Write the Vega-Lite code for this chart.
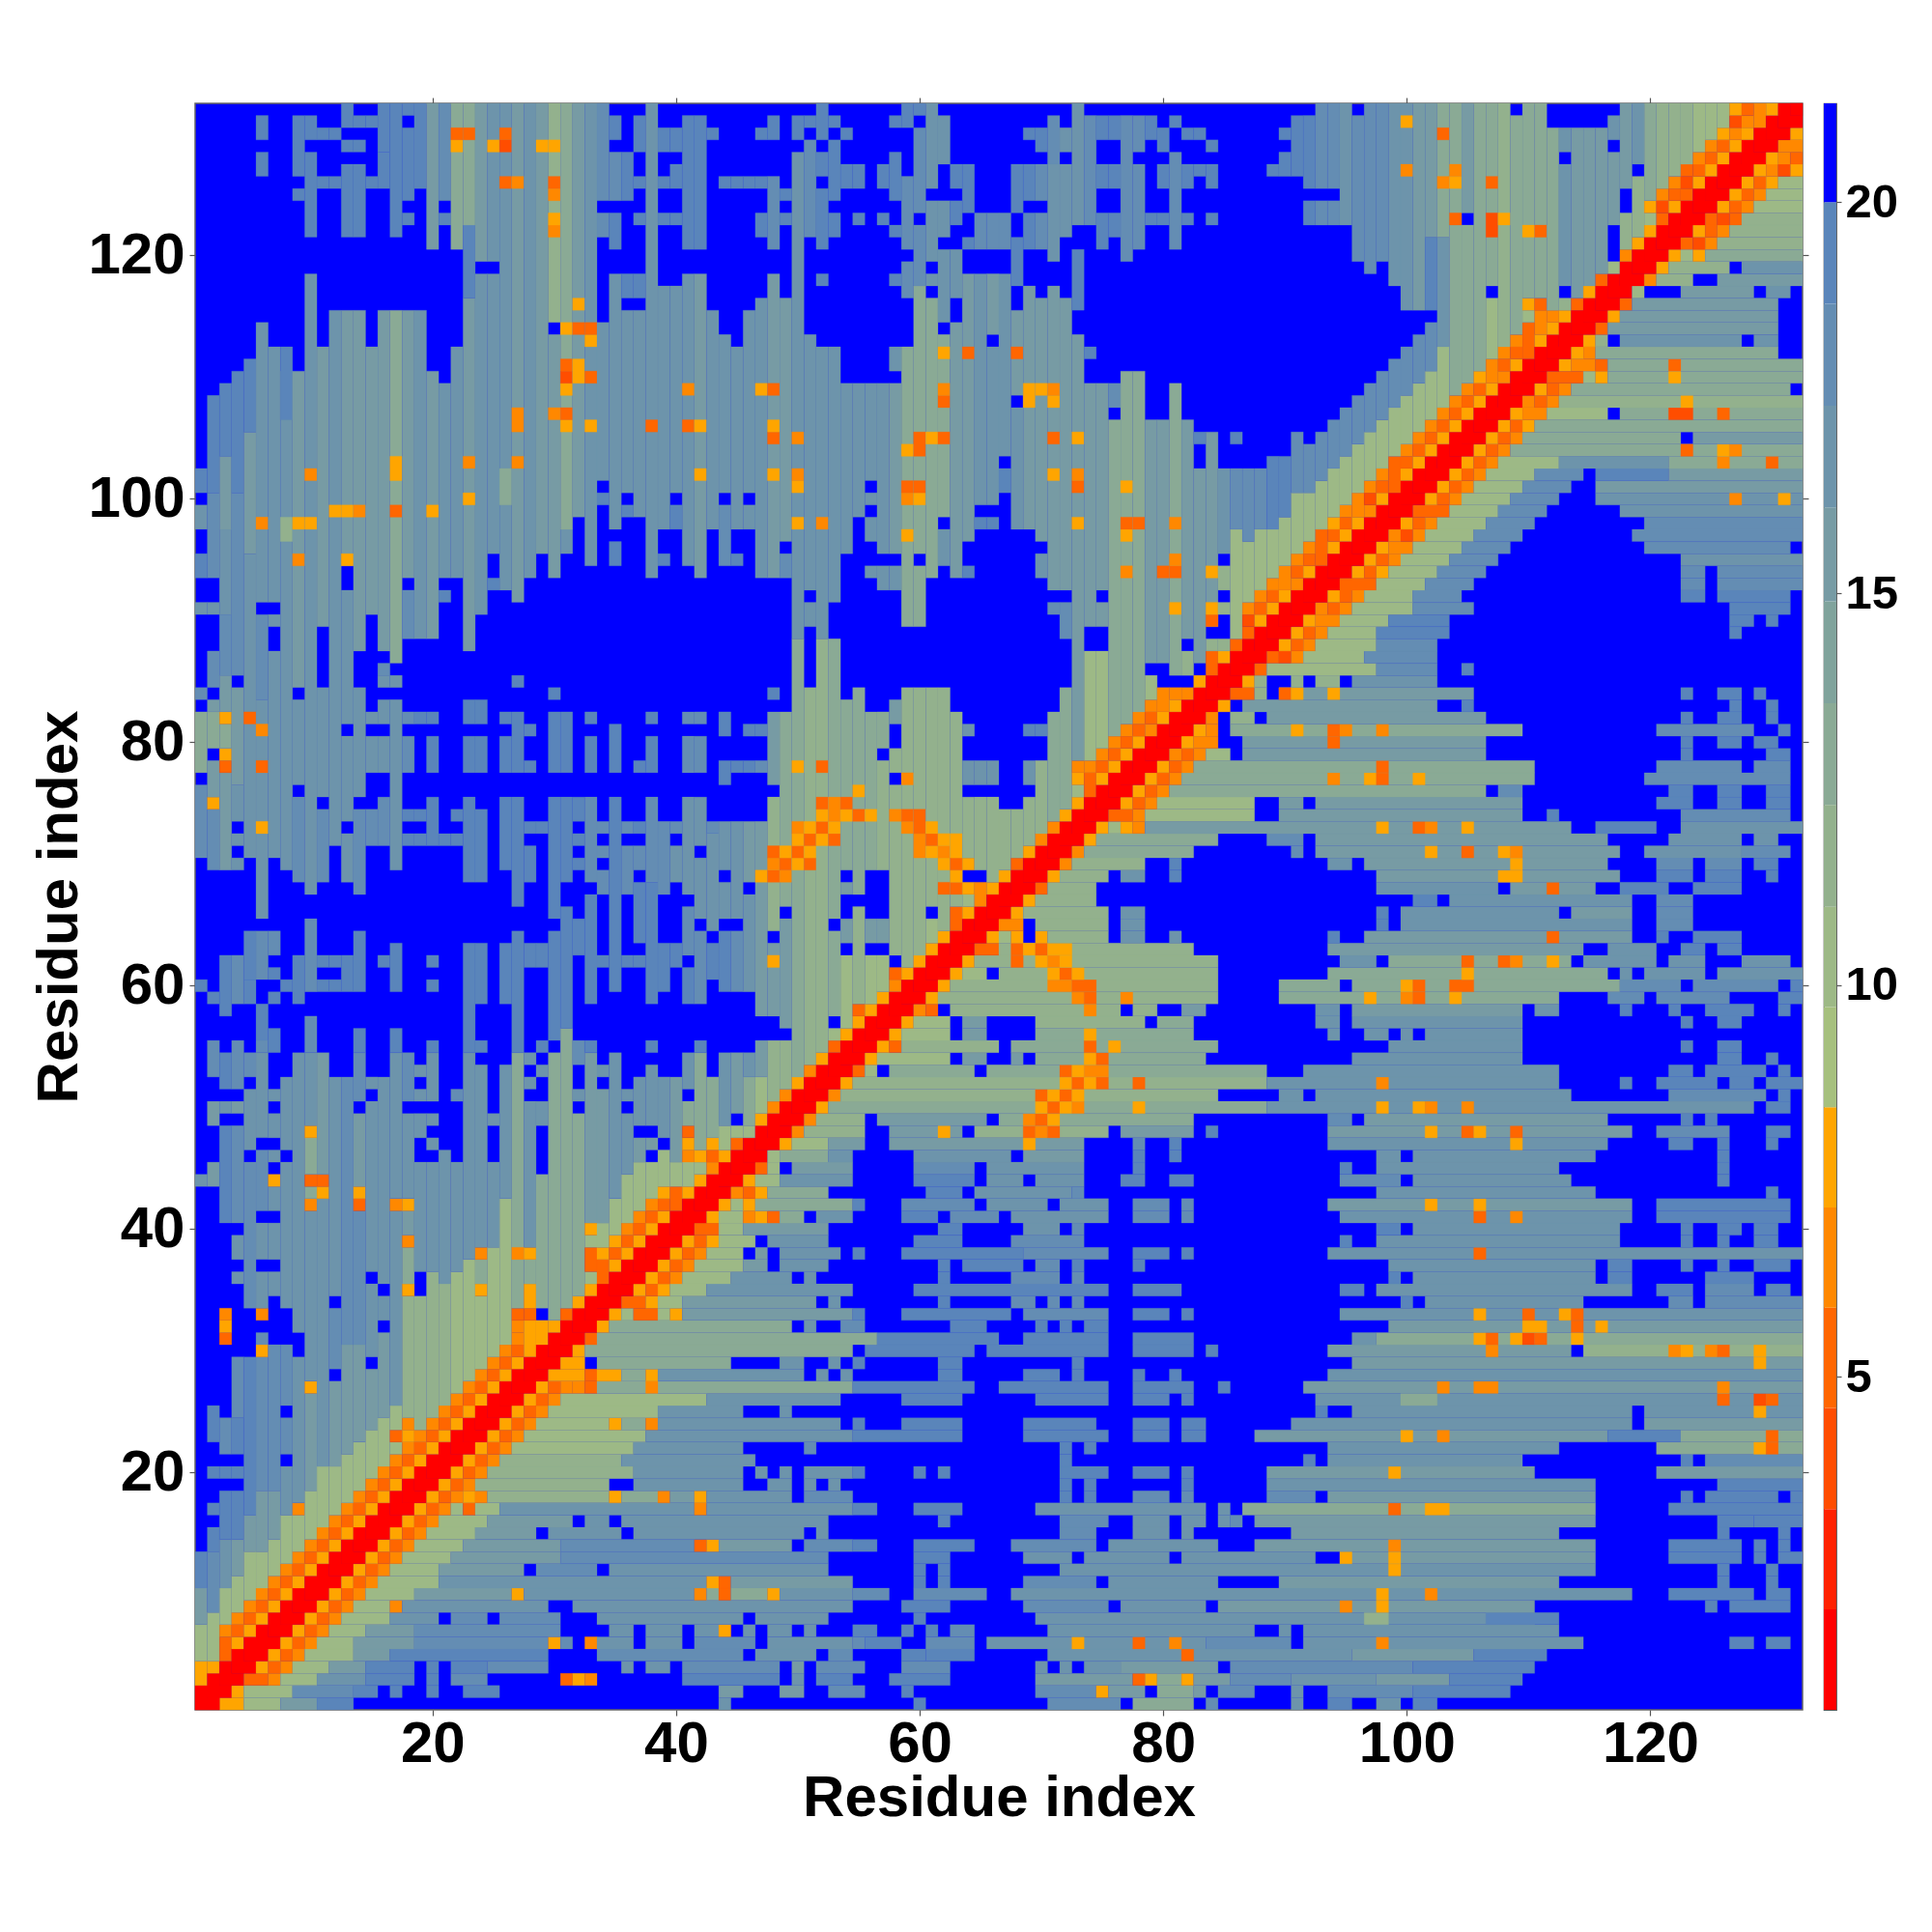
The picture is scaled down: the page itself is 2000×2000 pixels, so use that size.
{"$schema":"https://vega.github.io/schema/vega-lite/v6.json","background":"white","padding":{"left":31,"top":99,"right":0,"bottom":0},"spacing":13,"config":{"view":{"stroke":null},"axis":{"labelFont":"Liberation Sans","titleFont":"Liberation Sans","labelFontWeight":"bold","titleFontWeight":"bold","labelColor":"black","titleColor":"black","grid":false,"domain":false,"tickColor":"#555555","tickSize":6,"tickWidth":1.2}},
"hconcat":[{"width":1664,"height":1663,"view":{"fill":"#0000ff","stroke":"#666666","strokeWidth":1.5},
"data":{"values":[
{"y":0,"Y":1,"r":[[0,2,1],[2,4,7.5],[4,7,10],[7,10,15],[10,13,19.5],[43,44,17],[59,60,19.5],[70,76,18],[77,82,13],[83,84,18],[90,91,17],[93,95,19],[97,99,17],[100,102,19]]},
{"y":1,"Y":2,"r":[[0,3,1],[3,4,7.5],[4,8,10],[8,13,18],[13,15,19.5],[16,17,19.5],[19,20,19.5],[22,25,19],[43,45,15],[48,50,15],[52,55,18],[58,59,19.5],[69,74,18],[74,75,7.5],[75,78,15],[79,82,13],[82,83,15],[84,87,18],[90,91,17],[93,100,18],[100,108,19]]},
{"y":2,"Y":3,"r":[[2,4,1],[4,6,5],[6,7,6.5],[7,10,10],[10,14,17],[14,18,19.5],[19,20,19.5],[21,24,18],[30,31,5],[31,32,7.5],[32,33,6.5],[40,48,19],[49,50,17],[51,54,19],[57,62,19],[69,77,15],[77,78,5],[78,79,7.5],[79,81,13],[81,82,7.5],[82,85,15],[85,90,18],[90,97,17],[97,103,15],[103,109,19]]},
{"y":3,"Y":4,"r":[[3,5,1],[5,6,7.5],[6,7,5],[7,8,6.5],[8,11,10],[11,14,15],[14,18,19],[19,20,19],[21,24,19],[24,29,18],[35,36,17],[37,39,17],[40,48,18],[49,50,15],[51,55,18],[58,62,18],[69,70,17],[71,72,17],[73,76,17],[76,84,15],[85,100,18],[100,110,19]]},
{"y":4,"Y":5,"r":[[4,6,1],[6,7,7.5],[7,8,5],[8,9,6.5],[9,13,10],[13,16,15],[16,29,19],[33,45,18],[46,51,17],[52,54,18],[58,60,19.5],[60,64,19],[70,95,17],[81,82,5],[95,105,15],[105,111,19]]},
{"y":5,"Y":6,"r":[[5,7,1],[7,8,7.5],[8,9,5],[9,10,6.5],[10,13,10],[13,18,15],[18,29,18],[29,30,7.5],[30,31,18],[32,33,6.5],[33,36,17],[37,40,17],[41,46,18],[47,54,17],[54,55,18],[55,58,19],[60,64,18],[65,83,17],[72,73,7.5],[77,78,5],[80,81,6.5],[83,90,18],[91,114,17],[97,98,6.5],[126,128,19.5],[129,131,19.5]]},
{"y":6,"Y":7,"r":[[6,8,1],[8,9,7.5],[9,10,5],[10,11,6.5],[11,14,10],[14,18,15],[18,30,18],[34,36,17],[37,40,17],[41,43,17],[43,44,7.5],[45,46,17],[47,49,17],[50,51,17],[54,56,19],[58,59,19],[60,61,19],[62,64,18],[70,87,17],[89,90,17],[91,112,17]]},
{"y":7,"Y":8,"r":[[7,9,1],[9,10,7.5],[10,11,5],[11,12,6.5],[12,16,10],[16,20,17],[21,24,18],[25,30,18],[33,45,17],[46,52,17],[59,60,19.5],[69,110,17],[96,98,12],[106,112,19]]},
{"y":8,"Y":9,"r":[[8,10,1],[10,11,7.5],[11,12,5],[12,13,6.5],[13,16,10],[16,17,6.5],[17,29,17],[31,54,17],[58,62,19],[68,75,18],[76,83,17],[84,110,15],[94,95,6.5],[97,98,7.5],[124,125,19.5],[126,131,19.5]]},
{"y":9,"Y":10,"r":[[9,11,1],[11,12,7.5],[12,13,5],[13,14,6.5],[14,18,10],[18,26,15],[26,27,7.5],[27,41,17],[41,42,6.5],[42,43,13],[43,44,5],[44,47,13],[47,48,7.5],[48,54,17],[54,57,18],[59,65,18],[67,118,17],[97,98,7.5],[101,102,6.5],[121,128,19],[129,131,19]]},
{"y":10,"Y":11,"r":[[10,12,1],[12,13,7.5],[13,14,5],[14,15,6.5],[15,20,10],[20,42,17],[42,43,7.5],[43,44,5],[44,54,15],[59,60,19.5],[61,62,19.5],[68,74,18],[75,84,17],[89,112,15],[125,126,19.5],[129,130,19.5]]},
{"y":11,"Y":12,"r":[[11,13,1],[13,14,7.5],[14,15,5],[15,16,6.5],[16,20,10],[20,27,15],[28,33,18],[34,52,17],[59,60,19.5],[61,62,19.5],[71,115,17],[98,99,7.5],[125,126,19.5],[129,130,19.5]]},
{"y":12,"Y":13,"r":[[12,14,1],[14,15,7.5],[15,16,5],[16,17,6.5],[17,21,10],[21,30,15],[30,52,18],[59,62,19],[68,72,17],[73,80,17],[81,92,17],[94,115,15],[94,95,7.5],[98,99,7.5],[121,127,19],[128,129,19],[130,132,19]]},
{"y":13,"Y":14,"r":[[13,15,1],[15,16,7.5],[16,17,5],[17,18,6.5],[18,22,10],[22,30,15],[30,41,18],[41,42,5],[42,43,7.5],[43,49,15],[50,54,18],[54,56,19],[59,64,19],[67,74,18],[75,84,17],[87,115,15],[98,99,6.5],[121,127,19],[128,129,19],[130,131,19]]},
{"y":14,"Y":15,"r":[[14,16,1],[16,17,7.5],[17,18,5],[18,19,6.5],[19,23,10],[23,28,15],[29,35,17],[36,50,17],[51,52,17],[71,74,18],[77,80,17],[81,82,17],[90,112,15],[125,126,19.5],[130,131,19.5]]},
{"y":15,"Y":16,"r":[[15,17,1],[17,18,7.5],[18,19,5],[19,20,6.5],[20,24,10],[24,31,15],[32,34,17],[35,52,17],[61,62,19.5],[71,75,18],[77,80,17],[81,83,17],[84,85,17],[85,86,18],[87,115,15],[125,128,19],[128,132,19]]},
{"y":16,"Y":17,"r":[[16,18,1],[18,19,7.5],[19,20,5],[20,21,6.5],[21,22,10],[22,23,5],[23,25,10],[25,41,17],[41,42,6.5],[42,54,17],[54,56,19],[59,63,19],[69,83,17],[84,85,17],[86,115,13],[98,99,5],[101,103,7.5],[121,132,19]]},
{"y":17,"Y":18,"r":[[17,19,1],[19,20,7.5],[20,21,5],[21,22,6.5],[22,23,7.5],[23,24,6.5],[24,34,12],[34,35,7.5],[35,38,13],[38,39,6.5],[39,41,15],[41,42,7.5],[42,49,17],[50,54,18],[71,72,19],[73,74,19],[77,80,18],[81,82,18],[88,92,18],[93,115,15],[122,123,19.5],[124,130,19],[131,132,19.5]]},
{"y":18,"Y":19,"r":[[18,20,1],[20,21,7.5],[21,22,5],[22,23,6.5],[23,34,12],[36,45,17],[47,49,17],[50,51,17],[52,53,17],[71,72,19],[73,74,19],[81,82,19],[88,115,17],[125,132,19]]},
{"y":19,"Y":20,"r":[[19,21,1],[21,22,7.5],[22,23,5],[23,24,6.5],[24,36,12],[36,45,17],[46,47,17],[48,49,17],[50,54,17],[54,55,19.5],[59,60,19.5],[61,62,19.5],[71,75,19],[77,80,19],[81,82,19],[88,110,15],[98,99,7.5],[120,132,15]]},
{"y":20,"Y":21,"r":[[20,22,1],[22,23,7.5],[23,24,5],[24,25,6.5],[25,35,12],[35,46,17],[71,72,19],[91,92,19],[93,109,17],[122,123,19.5],[124,132,18]]},
{"y":21,"Y":22,"r":[[21,23,1],[23,24,7.5],[24,25,5],[25,26,6.5],[26,36,10],[36,45,17],[50,51,18],[71,72,19],[73,74,19],[93,112,17],[120,132,13],[128,129,7.5],[129,130,5]]},
{"y":22,"Y":23,"r":[[22,24,1],[24,25,7.5],[25,26,5],[26,27,6.5],[27,37,10],[37,54,17],[54,63,19.5],[68,75,19],[77,80,19],[81,83,19],[87,116,15],[99,100,7.5],[102,103,6.5],[116,122,19],[122,132,13],[129,130,5]]},
{"y":23,"Y":24,"r":[[23,25,1],[25,26,7.5],[26,27,5],[27,28,6.5],[28,34,10],[34,35,7.5],[35,37,13],[37,38,6.5],[38,53,17],[54,55,19.5],[58,63,19.5],[68,74,19],[77,80,19],[81,83,19],[90,118,17],[119,132,15]]},
{"y":24,"Y":25,"r":[[24,26,1],[26,27,7.5],[27,28,5],[28,29,6.5],[29,38,10],[38,45,17],[48,49,17],[92,93,19],[95,118,17],[119,132,17],[128,129,7.5]]},
{"y":25,"Y":26,"r":[[25,27,1],[27,28,7.5],[28,29,5],[29,30,6.5],[30,42,10],[42,53,17],[58,63,19.5],[69,75,19],[77,80,19],[81,82,19],[92,132,17],[99,102,13],[125,126,5],[128,129,4],[129,130,5]]},
{"y":26,"Y":27,"r":[[26,28,1],[28,29,7.5],[29,30,5],[30,31,6.5],[31,32,6.5],[32,33,5],[33,54,13],[37,38,6.5],[54,64,19.5],[66,75,19],[77,82,19],[84,85,19],[91,132,15],[102,103,6.5],[105,107,6.5],[125,126,6.5]]},
{"y":27,"Y":28,"r":[[27,29,1],[29,32,7.5],[32,33,5],[33,35,7.5],[35,37,13],[37,38,7.5],[38,50,17],[51,52,17],[53,54,17],[61,63,19.5],[68,71,19],[72,73,19],[77,78,19],[80,81,19],[93,132,17]]},
{"y":28,"Y":29,"r":[[28,30,1],[30,32,7.5],[33,44,13],[48,50,17],[52,53,17],[54,55,19],[61,63,19],[72,73,19],[95,132,15],[128,129,7.5]]},
{"y":29,"Y":30,"r":[[29,31,1],[31,32,7.5],[32,54,13],[55,64,19.5],[65,75,19],[77,82,19],[83,84,19],[93,113,15],[106,107,6.5],[114,132,12],[121,122,6.5],[122,123,7.5],[124,125,6.5],[125,126,5],[128,129,7.5]]},
{"y":30,"Y":31,"r":[[30,32,1],[32,33,5],[33,56,13],[56,66,19.5],[68,75,19],[77,82,19],[95,97,17],[97,132,13],[105,106,7.5],[106,107,5],[108,109,7.5],[109,110,4],[110,111,5],[113,114,7.5]]},
{"y":31,"Y":32,"r":[[31,33,1],[33,34,7.5],[34,49,13],[50,51,17],[53,55,18],[62,65,19.5],[69,70,19],[71,72,19],[73,75,19],[98,132,15],[109,111,7.5],[113,114,5],[115,116,7.5]]},
{"y":32,"Y":33,"r":[[32,34,1],[34,35,7.5],[35,36,10],[36,38,5],[38,39,10],[39,40,7.5],[40,54,15],[54,55,19],[58,67,19],[68,75,18],[77,80,19],[81,82,19],[94,132,17],[105,106,7.5],[109,110,5],[112,113,7.5],[113,114,5]]},
{"y":33,"Y":34,"r":[[33,35,1],[35,37,5],[37,38,7.5],[38,40,10],[40,51,15],[52,53,17],[61,62,19.5],[67,69,18],[70,71,18],[72,73,18],[99,100,19],[101,114,17],[121,123,18],[124,132,18]]},
{"y":34,"Y":35,"r":[[34,36,1],[36,37,7.5],[37,38,5],[38,39,7.5],[39,42,10],[42,54,17],[59,75,19],[77,81,19],[94,96,19],[97,118,17],[120,123,19],[124,128,18],[129,131,19]]},
{"y":35,"Y":36,"r":[[35,37,1],[37,38,7.5],[38,39,5],[39,40,6.5],[40,44,10],[44,49,17],[50,51,17],[61,62,19.5],[67,71,18],[72,73,18],[98,99,19],[100,115,17],[116,118,19],[124,128,19]]},
{"y":36,"Y":37,"r":[[36,38,1],[38,39,7.5],[39,40,5],[40,41,6.5],[41,45,10],[45,47,15],[48,52,17],[61,62,19.5],[63,68,19],[69,71,18],[72,73,19],[77,78,19],[98,115,17],[116,118,19],[122,123,19],[125,126,19],[128,131,19]]},
{"y":37,"Y":38,"r":[[37,39,1],[39,40,7.5],[40,41,5],[41,42,6.5],[42,45,10],[46,47,15],[48,53,17],[54,55,19],[58,68,19],[68,75,18],[77,80,19],[81,82,19],[93,132,17],[105,106,5]]},
{"y":38,"Y":39,"r":[[38,40,1],[40,41,7.5],[41,42,5],[42,43,7.5],[43,46,10],[47,52,17],[59,63,19],[67,73,18],[94,95,19],[97,117,17],[122,123,19.5],[125,126,19.5],[128,130,19.5]]},
{"y":39,"Y":40,"r":[[39,41,1],[41,43,5],[43,45,10],[45,52,15],[61,63,19],[68,71,17],[72,73,18],[97,99,19],[100,117,17],[122,123,19.5],[125,127,19.5],[128,130,19.5]]},
{"y":40,"Y":41,"r":[[40,42,1],[42,43,7.5],[43,45,10],[45,46,6.5],[46,47,7.5],[47,48,5],[48,50,13],[51,54,17],[58,61,19],[62,66,18],[67,75,17],[77,80,18],[81,82,18],[94,118,17],[105,106,5],[108,109,6.5],[120,131,19]]},
{"y":41,"Y":42,"r":[[41,43,1],[43,44,7.5],[44,45,10],[45,46,7.5],[46,54,13],[54,55,19],[58,64,18],[65,70,17],[71,75,17],[77,80,18],[81,82,18],[93,118,15],[101,102,7.5],[105,106,7.5],[120,131,19]]},
{"y":42,"Y":43,"r":[[42,44,1],[44,45,6.5],[45,46,5],[46,47,7.5],[47,52,13],[60,63,19],[64,72,17],[72,73,18],[97,115,17],[129,130,19]]},
{"y":43,"Y":44,"r":[[43,45,1],[45,46,7.5],[46,48,10],[48,54,17],[59,64,19],[65,68,17],[69,73,17],[76,78,19],[80,82,19],[94,99,18],[100,113,17],[125,126,19.5]]},
{"y":44,"Y":45,"r":[[44,46,1],[46,47,5],[47,48,10],[49,54,15],[59,64,18],[65,73,17],[77,78,19],[94,95,19],[97,112,17],[125,126,19.5]]},
{"y":45,"Y":46,"r":[[45,47,1],[47,48,10],[48,52,13],[52,54,17],[59,67,17],[68,73,15],[77,78,19],[80,81,19],[97,99,17],[100,115,17],[125,126,19.5]]},
{"y":46,"Y":47,"r":[[46,48,1],[48,49,7.5],[49,52,10],[52,55,15],[57,73,15],[68,69,7.5],[77,78,18],[80,81,19],[93,116,17],[108,109,7.5],[121,123,19],[125,126,19.5],[129,130,19.5]]},
{"y":47,"Y":48,"r":[[47,49,1],[49,50,6.5],[50,55,12],[57,63,15],[61,62,7.5],[64,75,12],[68,69,5],[69,70,6.5],[70,71,5],[76,82,15],[83,84,19],[93,118,15],[101,102,7.5],[104,105,5],[105,106,7.5],[108,109,5],[120,126,18],[129,131,19]]},
{"y":48,"Y":49,"r":[[48,50,1],[50,51,6.5],[51,55,12],[56,65,15],[66,82,13],[68,69,6.5],[69,70,5],[70,71,7.5],[93,95,18],[96,116,15],[122,123,19],[124,125,19]]},
{"y":49,"Y":50,"r":[[49,51,1],[51,52,7.5],[52,88,13],[69,70,7.5],[70,71,5],[71,72,7.5],[72,73,6.5],[77,78,7.5],[88,128,17],[97,98,7.5],[100,101,7.5],[101,102,6.5],[104,105,6.5],[129,131,19]]},
{"y":50,"Y":51,"r":[[50,52,1],[52,53,6.5],[53,84,12],[69,70,5],[70,71,7.5],[71,72,5],[72,73,7.5],[89,91,17],[92,113,17],[121,129,18],[130,131,19]]},
{"y":51,"Y":52,"r":[[51,53,1],[53,54,7.5],[54,88,12],[71,72,7.5],[72,73,5],[73,74,7.5],[74,75,5],[77,78,5],[88,112,17],[97,98,6.5],[117,118,19.5],[120,125,19],[126,128,19],[129,132,19]]},
{"y":52,"Y":53,"r":[[52,54,1],[54,55,5],[55,56,10],[57,64,13],[65,88,13],[71,72,5],[72,73,7.5],[73,75,6.5],[91,112,17],[121,123,19],[124,129,19],[130,131,19]]},
{"y":53,"Y":54,"r":[[53,55,1],[55,56,7.5],[56,62,10],[63,65,15],[67,68,15],[69,83,13],[73,74,7.5],[74,75,5],[95,109,17],[125,127,19],[129,130,19]]},
{"y":54,"Y":55,"r":[[54,56,1],[56,57,7.5],[57,58,5],[58,66,12],[67,84,13],[73,74,5],[75,76,7.5],[98,109,17],[122,123,19.5],[125,127,19.5]]},
{"y":55,"Y":56,"r":[[55,57,1],[57,58,7.5],[58,62,10],[63,65,15],[69,82,13],[73,74,7.5],[93,94,17],[96,98,17],[99,100,17],[101,109,17]]},
{"y":56,"Y":57,"r":[[56,58,1],[58,59,7.5],[59,62,10],[63,65,15],[69,78,12],[79,82,13],[92,94,17],[95,109,17],[122,123,19.5],[125,127,19]]},
{"y":57,"Y":58,"r":[[57,59,1],[59,60,6.5],[60,61,5],[62,76,12],[73,74,6.5],[77,79,12],[81,83,15],[92,94,17],[95,109,15],[110,112,17],[117,118,19],[121,122,19],[124,128,19],[130,131,19]]},
{"y":58,"Y":59,"r":[[58,60,1],[60,61,7.5],[61,84,12],[72,73,6.5],[73,74,5],[76,77,6.5],[89,112,13],[96,97,7.5],[99,100,6.5],[100,101,5],[103,104,7.5],[116,119,18],[120,126,18],[130,132,19]]},
{"y":59,"Y":60,"r":[[59,61,1],[61,62,7.5],[62,84,12],[70,72,6.5],[72,74,5],[89,94,13],[95,117,13],[99,100,7.5],[100,101,5],[103,105,5],[117,122,18],[123,130,18],[131,132,19]]},
{"y":60,"Y":61,"r":[[60,62,1],[62,63,7.5],[63,65,10],[66,84,12],[70,71,7.5],[71,72,5],[72,73,7.5],[93,116,13],[104,105,7.5],[117,118,17],[119,124,17],[125,132,17]]},
{"y":61,"Y":62,"r":[[61,63,1],[63,64,7.5],[64,84,12],[67,68,5],[69,70,7.5],[70,71,6.5],[71,72,7.5],[94,97,17],[98,113,13],[104,105,5],[107,108,5],[108,109,6.5],[111,112,7.5],[114,120,17],[121,124,17],[127,131,17]]},
{"y":62,"Y":63,"r":[[62,64,1],[64,66,5],[66,82,12],[67,68,5],[68,69,7.5],[69,70,5],[70,72,7.5],[93,114,15],[116,120,17],[122,124,19],[125,127,19]]},
{"y":63,"Y":64,"r":[[63,65,1],[65,66,7.5],[66,67,10],[67,68,7.5],[69,70,7.5],[70,75,12],[76,78,17],[80,81,17],[93,94,19],[96,118,15],[111,112,5],[120,121,19],[123,127,19]]},
{"y":64,"Y":65,"r":[[64,66,1],[66,68,6.5],[69,75,12],[76,78,17],[97,98,19],[99,118,17],[120,123,18]]},
{"y":65,"Y":66,"r":[[65,67,1],[67,68,7.5],[68,75,12],[76,78,17],[97,98,19],[99,112,17],[113,118,15],[120,123,18]]},
{"y":66,"Y":67,"r":[[66,68,1],[68,69,7.5],[69,74,12],[100,102,19],[103,118,17],[120,123,18]]},
{"y":67,"Y":68,"r":[[67,69,1],[69,70,5],[70,74,12],[97,107,17],[108,115,15],[111,112,5],[117,121,19],[123,127,19]]},
{"y":68,"Y":69,"r":[[68,70,1],[70,71,7.5],[71,75,12],[76,78,17],[80,81,19],[97,117,15],[107,109,7.5],[120,123,19],[124,127,19],[129,130,19.5]]},
{"y":69,"Y":70,"r":[[69,71,1],[71,72,6.5],[72,78,12],[80,81,19],[93,95,17],[96,116,15],[108,109,7.5],[120,123,18],[124,127,18],[128,130,19]]},
{"y":70,"Y":71,"r":[[70,72,1],[72,73,6.5],[73,82,13],[90,91,18],[92,117,15],[101,102,7.5],[104,105,5],[107,108,7.5],[108,109,6.5],[119,127,17],[127,131,18]]},
{"y":71,"Y":72,"r":[[71,73,1],[73,74,7.5],[74,84,13],[88,91,18],[92,116,15],[121,127,17],[128,130,17]]},
{"y":72,"Y":73,"r":[[72,74,1],[74,75,7.5],[75,76,10],[76,77,7.5],[77,78,6.5],[78,113,15],[97,98,7.5],[100,101,5],[101,102,6.5],[104,105,7.5],[115,120,19],[122,132,17]]},
{"y":73,"Y":74,"r":[[73,75,1],[75,77,5],[77,78,6.5],[78,87,10],[89,109,15],[111,112,19],[122,131,18]]},
{"y":74,"Y":75,"r":[[74,76,1],[76,77,7.5],[77,78,5],[78,79,6.5],[79,87,10],[89,91,15],[92,109,15],[120,123,19],[125,127,19],[129,131,19]]},
{"y":75,"Y":76,"r":[[75,77,1],[77,78,7.5],[78,79,5],[79,80,6.5],[80,106,13],[107,109,18],[121,123,19],[125,127,19],[129,131,19]]},
{"y":76,"Y":77,"r":[[76,78,1],[78,79,7.5],[79,80,5],[80,81,6.5],[81,110,13],[93,94,6.5],[96,97,7.5],[97,98,5],[100,101,7.5],[119,131,18]]},
{"y":77,"Y":78,"r":[[77,79,1],[79,80,7.5],[80,81,5],[81,82,6.5],[82,110,13],[97,98,5],[120,127,18],[128,131,18]]},
{"y":78,"Y":79,"r":[[78,80,1],[80,81,6.5],[81,82,5],[82,83,6.5],[83,85,10],[86,106,15],[122,123,19.5],[129,131,19.5]]},
{"y":79,"Y":80,"r":[[79,81,1],[81,82,7.5],[82,84,6.5],[86,106,15],[93,94,5],[122,123,19.5],[125,127,19],[128,130,19]]},
{"y":80,"Y":81,"r":[[80,82,1],[82,83,7.5],[83,84,6.5],[85,109,13],[90,91,7.5],[93,94,5],[94,95,6.5],[97,98,6.5],[120,128,18],[130,131,19]]},
{"y":81,"Y":82,"r":[[81,83,1],[83,84,6.5],[85,87,12],[88,106,15],[122,123,19],[125,127,19],[129,130,19]]},
{"y":82,"Y":83,"r":[[82,84,1],[84,85,7.5],[86,102,15],[104,105,19],[126,127,19],[129,130,19]]},
{"y":83,"Y":84,"r":[[83,85,1],[85,87,5],[87,88,12],[89,105,15],[89,90,5],[90,91,7.5],[93,94,7.5],[122,123,19],[125,127,19],[128,129,19]]},
{"y":84,"Y":85,"r":[[84,86,1],[86,87,7.5],[87,88,12],[90,91,12],[92,94,12],[95,102,17]]},
{"y":85,"Y":86,"r":[[85,87,1],[87,88,5],[88,97,10],[97,102,18],[104,105,19]]},
{"y":86,"Y":87,"r":[[86,88,1],[88,89,5],[89,90,4],[90,91,6.5],[91,96,10],[96,102,18]]},
{"y":87,"Y":88,"r":[[87,89,1],[89,90,7.5],[90,91,5],[91,92,6.5],[92,97,10],[97,102,18]]},
{"y":88,"Y":89,"r":[[88,90,1],[90,91,7.5],[91,92,5],[92,93,6.5],[93,97,10],[97,103,19],[126,127,19]]},
{"y":89,"Y":90,"r":[[89,91,1],[91,92,7.5],[92,94,6.5],[94,98,10],[98,103,19],[126,128,19],[129,130,19]]},
{"y":90,"Y":91,"r":[[90,92,1],[92,93,6.5],[93,94,5],[94,95,6.5],[95,100,10],[100,105,18],[126,131,19]]},
{"y":91,"Y":92,"r":[[91,93,1],[93,94,7.5],[94,95,5],[95,96,6.5],[96,100,10],[100,104,18],[122,124,19],[125,131,19]]},
{"y":92,"Y":93,"r":[[92,94,1],[94,97,5],[97,101,10],[101,105,18],[122,124,18],[125,132,18]]},
{"y":93,"Y":94,"r":[[93,95,1],[95,96,7.5],[96,97,5],[97,98,7.5],[98,102,10],[102,106,18],[122,124,18],[125,132,18]]},
{"y":94,"Y":95,"r":[[94,96,1],[96,97,7.5],[97,98,5],[98,99,6.5],[99,103,10],[103,107,18],[122,132,17]]},
{"y":95,"Y":96,"r":[[95,97,1],[97,98,7.5],[98,100,6.5],[100,104,10],[104,108,18],[119,131,18]]},
{"y":96,"Y":97,"r":[[96,98,1],[98,99,6.5],[99,100,4],[100,101,6.5],[101,105,10],[105,109,18],[118,132,18]]},
{"y":97,"Y":98,"r":[[97,99,1],[99,100,7.5],[100,101,5],[101,102,6.5],[102,106,10],[106,110,18],[119,132,18]]},
{"y":98,"Y":99,"r":[[98,100,1],[100,103,5],[103,107,10],[107,111,18],[117,132,17]]},
{"y":99,"Y":100,"r":[[99,101,1],[101,102,7.5],[102,103,5],[103,104,6.5],[104,108,10],[108,112,18],[115,132,17],[126,127,6.5],[130,131,7.5]]},
{"y":100,"Y":101,"r":[[100,102,1],[102,103,7.5],[103,104,5],[104,105,6.5],[105,109,10],[109,113,18],[115,132,15]]},
{"y":101,"Y":102,"r":[[101,103,1],[103,104,7.5],[104,105,5],[105,106,6.5],[106,110,10],[110,114,18],[115,121,19.5],[121,132,15]]},
{"y":102,"Y":103,"r":[[102,104,1],[104,105,7.5],[105,106,5],[106,107,6.5],[107,112,10],[112,121,17],[121,132,13],[125,126,6.5],[129,130,5]]},
{"y":103,"Y":104,"r":[[103,105,1],[105,106,7.5],[106,107,5],[107,108,6.5],[108,132,13],[122,123,5],[125,126,7.5],[126,127,6.5]]},
{"y":104,"Y":105,"r":[[104,106,1],[106,107,7.5],[107,108,5],[108,109,6.5],[109,122,13],[123,132,15]]},
{"y":105,"Y":106,"r":[[105,107,1],[107,108,7.5],[108,109,5],[109,110,7.5],[110,132,13]]},
{"y":106,"Y":107,"r":[[106,108,1],[108,109,7.5],[109,111,6.5],[111,116,10],[117,132,13],[121,123,4],[125,126,5]]},
{"y":107,"Y":108,"r":[[107,109,1],[109,110,6.5],[110,111,5],[111,112,6.5],[112,132,12],[122,123,7.5]]},
{"y":108,"Y":109,"r":[[108,110,1],[110,111,7.5],[111,112,5],[112,113,6.5],[113,131,13]]},
{"y":109,"Y":110,"r":[[109,111,1],[111,114,5],[114,115,10],[115,116,7.5],[116,132,13],[121,122,7.5]]},
{"y":110,"Y":111,"r":[[110,112,1],[112,113,7.5],[113,115,6.5],[115,116,5],[116,132,13],[121,122,5]]},
{"y":111,"Y":112,"r":[[111,113,1],[113,114,7.5],[114,115,6.5],[115,130,13]]},
{"y":112,"Y":113,"r":[[112,114,1],[114,115,7.5],[115,116,12],[117,127,17],[128,130,17]]},
{"y":113,"Y":114,"r":[[113,115,1],[115,116,5],[116,130,15]]},
{"y":114,"Y":115,"r":[[114,116,1],[116,117,7.5],[117,130,15]]},
{"y":115,"Y":116,"r":[[115,117,1],[117,118,5],[118,130,15]]},
{"y":116,"Y":117,"r":[[116,118,1],[118,119,10],[122,128,15],[129,131,17]]},
{"y":117,"Y":118,"r":[[117,119,1],[119,120,6.5],[120,123,12],[125,132,15]]},
{"y":118,"Y":119,"r":[[118,120,1],[120,121,7.5],[121,126,12],[127,132,17]]},
{"y":119,"Y":120,"r":[[119,121,1],[121,122,7.5],[122,123,10],[123,124,7.5],[124,132,13]]},
{"y":120,"Y":121,"r":[[120,122,1],[122,123,5],[123,124,4],[124,125,6.5],[125,132,12]]},
{"y":121,"Y":122,"r":[[121,123,1],[123,124,7.5],[124,125,5],[125,126,6.5],[126,132,12]]},
{"y":122,"Y":123,"r":[[122,124,1],[124,125,5],[125,126,4],[126,127,5],[127,132,12]]},
{"y":123,"Y":124,"r":[[123,125,1],[125,126,7.5],[126,127,5],[127,128,6.5],[128,132,10]]},
{"y":124,"Y":125,"r":[[124,126,1],[126,127,7.5],[127,128,5],[128,129,6.5],[129,132,10]]},
{"y":125,"Y":126,"r":[[125,127,1],[127,128,7.5],[128,129,5],[129,130,7.5],[130,132,10]]},
{"y":126,"Y":127,"r":[[126,128,1],[128,129,7.5],[129,130,6.5],[130,131,4],[131,132,7.5]]},
{"y":127,"Y":128,"r":[[127,129,1],[129,130,7.5],[130,131,6.5],[131,132,5]]},
{"y":128,"Y":129,"r":[[128,130,1],[130,132,7]]},
{"y":129,"Y":130,"r":[[129,131,1],[131,132,7.5]]},
{"y":130,"Y":131,"r":[[130,132,1]]},
{"y":131,"Y":132,"r":[[131,132,1]]}
]},
"transform":[{"flatten":["r"]}],
"resolve":{"axis":{"x":"independent","y":"independent"}},
"layer":[
{"mark":{"type":"rect","strokeWidth":0.25},"encoding":{
"x":{"field":"r[0]","type":"quantitative","scale":{"domain":[0,132],"nice":false,"zero":false},"axis":{"orient":"bottom","title":"Residue index","titleFontSize":60,"titlePadding":-3,"labelFontSize":60,"values":[19.5,39.5,59.5,79.5,99.5,119.5],"labelExpr":"datum.value+0.5","labelPadding":0}},
"x2":{"field":"r[1]"},
"y":{"field":"y","type":"quantitative","scale":{"domain":[0,132],"nice":false,"zero":false},"axis":{"orient":"left","title":"Residue index","titleFontSize":60,"titlePadding":-2,"labelFontSize":60,"values":[19.5,39.5,59.5,79.5,99.5,119.5],"labelExpr":"datum.value+0.5","labelPadding":5}},
"y2":{"field":"Y"},
"color":{"field":"r[2]","type":"quantitative","legend":null,"scale":{"type":"threshold","domain":[2.03,3.31,4.6,5.88,7.16,8.44,9.72,11,12.3,13.6,14.9,16.1,17.4,18.7,20],"range":["#ff0000","#ff2200","#ff4d00","#ff6600","#ff8800","#ffa500","#a6c07e","#9db986","#93b18d","#8aaa95","#80a39c","#779ba4","#6d94ab","#648db3","#5a85ba","#0000ff"]}},
"stroke":{"field":"r[2]","type":"quantitative","legend":null,"scale":{"type":"threshold","domain":[2.03,3.31,4.6,5.88,7.16,8.44,9.72,11,12.3,13.6,14.9,16.1,17.4,18.7,20],"range":["#ff0000","#ff2200","#ff4d00","#ff6600","#ff8800","#ffa500","#a6c07e","#9db986","#93b18d","#8aaa95","#80a39c","#779ba4","#6d94ab","#648db3","#5a85ba","#0000ff"]}}}},
{"mark":{"type":"rect","strokeWidth":0.25},"encoding":{
"x":{"field":"y","type":"quantitative","scale":{"domain":[0,132],"nice":false,"zero":false},"axis":{"orient":"top","title":null,"labels":false,"values":[19.5,39.5,59.5,79.5,99.5,119.5]}},
"x2":{"field":"Y"},
"y":{"field":"r[0]","type":"quantitative","scale":{"domain":[0,132],"nice":false,"zero":false},"axis":{"orient":"right","title":null,"labels":false,"values":[19.5,39.5,59.5,79.5,99.5,119.5]}},
"y2":{"field":"r[1]"},
"color":{"field":"r[2]","type":"quantitative","legend":null,"scale":{"type":"threshold","domain":[2.03,3.31,4.6,5.88,7.16,8.44,9.72,11,12.3,13.6,14.9,16.1,17.4,18.7,20],"range":["#ff0000","#ff2200","#ff4d00","#ff6600","#ff8800","#ffa500","#a6c07e","#9db986","#93b18d","#8aaa95","#80a39c","#779ba4","#6d94ab","#648db3","#5a85ba","#0000ff"]}},
"stroke":{"field":"r[2]","type":"quantitative","legend":null,"scale":{"type":"threshold","domain":[2.03,3.31,4.6,5.88,7.16,8.44,9.72,11,12.3,13.6,14.9,16.1,17.4,18.7,20],"range":["#ff0000","#ff2200","#ff4d00","#ff6600","#ff8800","#ffa500","#a6c07e","#9db986","#93b18d","#8aaa95","#80a39c","#779ba4","#6d94ab","#648db3","#5a85ba","#0000ff"]}}}}
]},
{"width":13,"height":1663,"view":{"stroke":"#555555","strokeWidth":1.2},
"data":{"values":[{"lo":0.746,"hi":2.03,"v":1.4},{"lo":2.03,"hi":3.31,"v":2.7},{"lo":3.31,"hi":4.6,"v":4},{"lo":4.6,"hi":5.88,"v":5.2},{"lo":5.88,"hi":7.16,"v":6.5},{"lo":7.16,"hi":8.44,"v":7.8},{"lo":8.44,"hi":9.72,"v":9},{"lo":9.72,"hi":11,"v":10.4},{"lo":11,"hi":12.3,"v":11.6},{"lo":12.3,"hi":13.6,"v":13},{"lo":13.6,"hi":14.9,"v":14.2},{"lo":14.9,"hi":16.1,"v":15.5},{"lo":16.1,"hi":17.4,"v":16.8},{"lo":17.4,"hi":18.7,"v":18},{"lo":18.7,"hi":20,"v":19.3},{"lo":20,"hi":21.26,"v":20.6}]},
"mark":{"type":"rect"},
"encoding":{"y":{"field":"lo","type":"quantitative","scale":{"domain":[0.746,21.26],"nice":false,"zero":false},"axis":{"orient":"right","title":null,"values":[5,10,15,20],"labelFontSize":49,"labelPadding":4,"tickSize":5}},"y2":{"field":"hi"},
"color":{"field":"v","type":"quantitative","legend":null,"scale":{"type":"threshold","domain":[2.03,3.31,4.6,5.88,7.16,8.44,9.72,11,12.3,13.6,14.9,16.1,17.4,18.7,20],"range":["#ff0000","#ff2200","#ff4d00","#ff6600","#ff8800","#ffa500","#a6c07e","#9db986","#93b18d","#8aaa95","#80a39c","#779ba4","#6d94ab","#648db3","#5a85ba","#0000ff"]}}}}
],"resolve":{"scale":{"color":"independent"}}}
